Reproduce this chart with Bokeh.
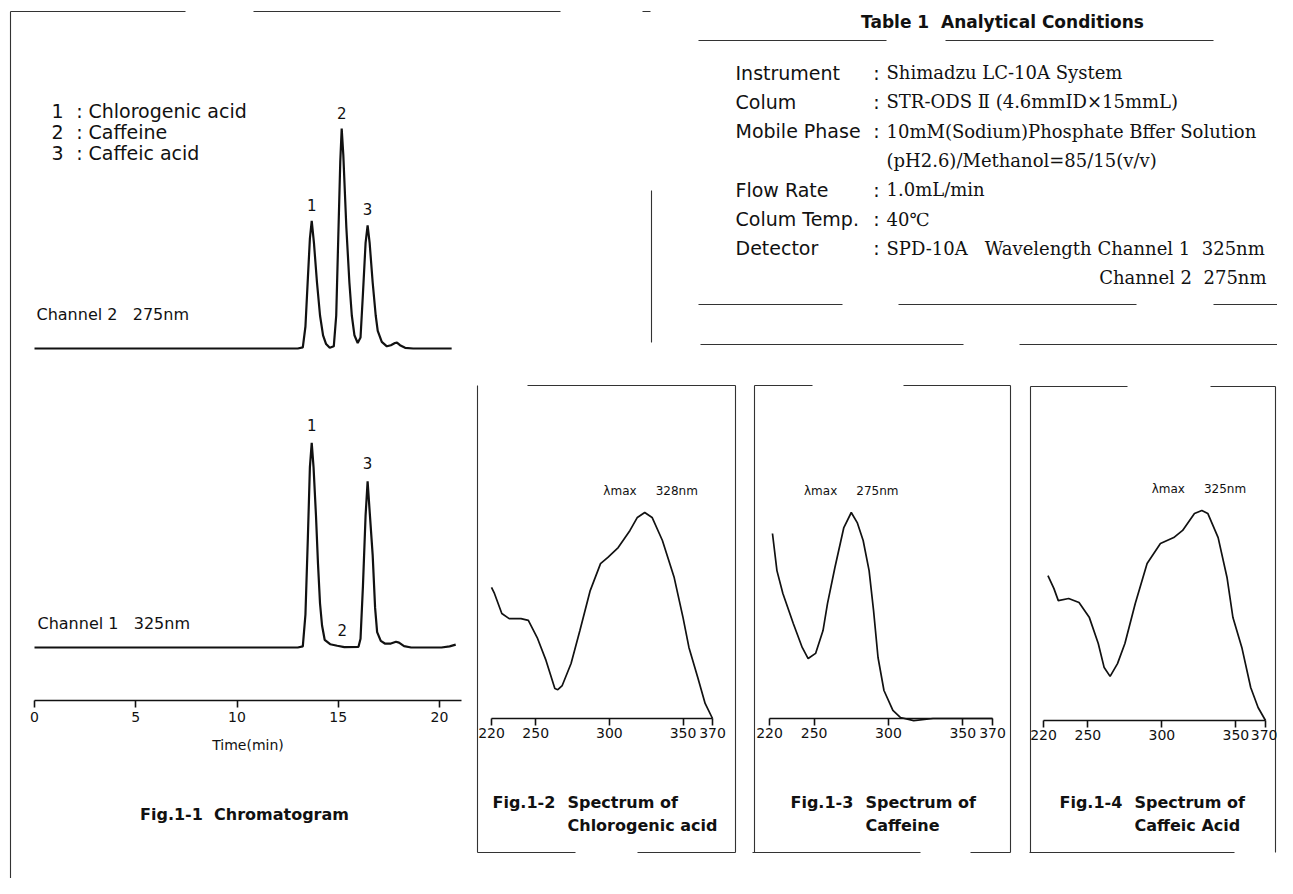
from bokeh.plotting import figure
from bokeh.models import Range1d, LinearAxis, FixedTicker
from bokeh.core.properties import value
from bokeh.embed import file_html
from bokeh.resources import INLINE

# ------------------------------------------------------------------ data
# Fig.1-1 chromatogram (time in min, relative detector signal)
ch2_time = [0.0, 13.0, 13.25, 13.38, 13.5, 13.6, 13.69, 13.8, 13.95, 14.1, 14.25, 14.4, 14.58,
            14.78, 14.9, 15.0, 15.1, 15.17, 15.25, 15.4, 15.55, 15.67, 15.8, 15.96, 16.1, 16.22,
            16.35, 16.45, 16.55, 16.7, 16.85, 16.95, 17.15, 17.4, 17.6, 17.8, 17.9, 18.05, 18.3,
            18.7, 20.6]
ch2_signal = [0, 0, 0.5, 10, 32, 50, 58, 48, 30, 15, 6, 2, 0.3,
              1, 15, 50, 85, 100, 88, 55, 30, 15, 6, 2.5, 5, 25,
              48, 56, 48, 30, 15, 8, 3, 1, 1.5, 2.5, 2.7, 1.5, 0.3,
              0, 0]
ch1_time = [0.0, 13.0, 13.25, 13.38, 13.5, 13.6, 13.69, 13.78, 13.9, 14.0, 14.1, 14.2, 14.33,
            14.6, 14.95, 15.3, 16.0, 16.1, 16.22, 16.35, 16.45, 16.55, 16.7, 16.82, 16.92,
            17.1, 17.3, 17.6, 17.85, 18.0, 18.25, 18.6, 20.1, 20.5, 20.8]
ch1_signal = [0, 0, 0.5, 15, 50, 82, 93, 82, 60, 38, 20, 10, 3.5,
              1.5, 0.8, 0.2, 0.3, 4, 28, 60, 75.5, 62, 42, 18, 7,
              3, 1.8, 1.8, 2.6, 2.2, 0.6, 0, 0, 0.5, 1.3]
chrom_ticks = [0, 5, 10, 15, 20]
chrom_axis_end = 21.1
ch2_peak_names = ["1", "2", "3"]
ch2_peak_time = [13.69, 15.17, 16.45]
ch2_peak_height = [58, 100, 56]
ch1_peak_names = ["1", "2", "3"]
ch1_peak_time = [13.69, 15.2, 16.45]
ch1_peak_height = [93, 0, 75.5]
legend_num = ["1", "2", "3"]
legend_name = ["Chlorogenic acid", "Caffeine", "Caffeic acid"]
channel_text = ["Channel 2\u00a0\u00a0\u00a0275nm", "Channel 1\u00a0\u00a0\u00a0325nm"]

# UV spectra (wavelength nm, relative absorbance)
spec1_wl = [220, 222, 227, 232, 240, 245, 251, 257, 263, 265, 268, 274, 280, 287, 294, 299, 306,
            314, 319, 324, 329, 336, 344, 350, 354, 360, 365, 370]
spec1_abs = [0.636, 0.607, 0.510, 0.485, 0.485, 0.476, 0.393, 0.282, 0.146, 0.140, 0.160, 0.267,
             0.427, 0.621, 0.752, 0.782, 0.830, 0.913, 0.976, 1.0, 0.976, 0.864, 0.684, 0.490,
             0.345, 0.199, 0.073, 0.0]
spec2_wl = [222, 225, 229, 236, 242, 246, 251, 256, 259, 264, 270, 275, 279, 283, 287, 290, 293,
            297, 303, 308, 317, 330, 370]
spec2_abs = [0.898, 0.718, 0.607, 0.461, 0.345, 0.291, 0.316, 0.427, 0.558, 0.733, 0.927, 1.0,
             0.951, 0.864, 0.718, 0.524, 0.296, 0.136, 0.039, 0.005, -0.01, 0.0, 0.0]
spec3_wl = [223, 227, 230, 237, 244, 251, 257, 261, 265, 270, 275, 282, 290, 299, 308, 314, 322,
            327, 331, 338, 344, 348, 354, 360, 365, 370]
spec3_abs = [0.690, 0.629, 0.571, 0.581, 0.562, 0.490, 0.367, 0.252, 0.210, 0.271, 0.367, 0.557,
             0.748, 0.843, 0.871, 0.905, 0.986, 1.0, 0.986, 0.871, 0.681, 0.490, 0.348, 0.157,
             0.062, 0.0]
spec_ticks = [220, 250, 300, 350, 370]
lambda_max = [328, 275, 325]
spec_fig = ["Fig.1-2", "Fig.1-3", "Fig.1-4"]
spec_compound = ["Chlorogenic acid", "Caffeine", "Caffeic Acid"]

# Table 1
table_title = "Table 1\u00a0\u00a0Analytical Conditions"
table_labels = ["Instrument", "Colum", "Mobile Phase", "", "Flow Rate", "Colum Temp.",
                "Detector", ""]
table_values = ["Shimadzu LC-10A System",
                "STR-ODS \u2161 (4.6mmID\u00d715mmL)",
                "10mM(Sodium)Phosphate Bffer Solution",
                "(pH2.6)/Methanol=85/15(v/v)",
                "1.0mL/min",
                "40\u2103",
                "SPD-10A\u00a0\u00a0\u00a0Wavelength Channel 1\u00a0\u00a0325nm",
                "Channel 2\u00a0\u00a0275nm"]

# ------------------------------------------------------------------ layout
W, H = 1277, 878
X0, Y0 = 0, 0
SANS = "DejaVu Sans"
SERIF = "DejaVu Serif"
INK = "#111111"


def lin_range(p0, v0, p1, v1, lo, hi):
    k = (v1 - v0) / (p1 - p0)
    return Range1d(start=v0 + (lo - p0) * k, end=v0 + (hi - p0) * k)


def xr(p0, v0, p1, v1):
    return lin_range(p0, v0, p1, v1, X0, X0 + W)


def yr(p0, v0, p1, v1):
    return lin_range(p0, v0, p1, v1, Y0 + H, Y0)


p = figure(width=W, height=H, x_range=Range1d(X0, X0 + W), y_range=Range1d(Y0 + H, Y0),
           output_backend="svg", toolbar_location=None, min_border=0,
           x_axis_type=None, y_axis_type=None, outline_line_color=None,
           background_fill_color="white", border_fill_color="white")

p.extra_x_ranges = {
    "t": xr(34, 0, 439, 20),
    "w1": xr(491, 220, 712, 370),
    "w2": xr(769, 220, 992, 370),
    "w3": xr(1043, 220, 1265, 370),
}
p.extra_y_ranges = {
    "ch2": yr(348, 0, 128, 100),
    "ch1": yr(647, 0, 427, 100),
    "a1": yr(718, 0, 512, 1),
    "a2": yr(718, 0, 512, 1),
    "a3": yr(720, 0, 510, 1),
}


def txt(x, y, s, size, font=SANS, style="normal", align="left", baseline="middle", **kw):
    p.text(x=x, y=y, text=s, text_font=value(font), text_font_size=value(size),
           text_font_style=style, text_align=align, text_baseline=baseline,
           text_color=INK, **kw)


# ---- decorative frame lines (scanned page rules)
frame = [
    (10, 11, 185, 11), (253, 11, 560, 11), (642, 11, 650, 11),
    (10, 11, 10, 894), (651, 190, 651, 342),
    (698, 40, 886, 40), (945, 40, 1213, 40),
    (698, 304, 842, 304), (898, 304, 1136, 304), (1213, 304, 1293, 304),
    (700, 344, 963, 344), (1019, 344, 1293, 344),
    (477, 385, 477, 852), (527, 385, 735, 385), (735, 385, 735, 852),
    (477, 852, 575, 852), (637, 852, 735, 852),
    (754, 385, 754, 852), (754, 385, 812, 385), (903, 385, 1010, 385), (1010, 385, 1010, 852),
    (752, 852, 920, 852), (970, 852, 1010, 852),
    (1030, 386, 1030, 852), (1030, 386, 1127, 386), (1210, 386, 1275, 386),
    (1275, 386, 1275, 852), (1029, 852, 1234, 852),
]
p.segment(x0=[f[0] for f in frame], y0=[f[1] for f in frame],
          x1=[f[2] for f in frame], y1=[f[3] for f in frame],
          line_color="#333333", line_width=1.1)

# ---- chromatogram traces
p.line(ch2_time, ch2_signal, x_range_name="t", y_range_name="ch2", line_color=INK, line_width=2.2)
p.line(ch1_time, ch1_signal, x_range_name="t", y_range_name="ch1", line_color=INK, line_width=2.2)

p.text(x=ch2_peak_time, y=ch2_peak_height, text=ch2_peak_names, x_range_name="t",
       y_range_name="ch2", text_font=value(SANS), text_font_size=value("15px"),
       text_align="center", text_baseline="middle", y_offset=-16, text_color=INK)
p.text(x=ch1_peak_time, y=ch1_peak_height, text=ch1_peak_names, x_range_name="t",
       y_range_name="ch1", text_font=value(SANS), text_font_size=value("15px"),
       text_align="center", text_baseline="middle", y_offset=-18, text_color=INK)

ax_t = LinearAxis(x_range_name="t", fixed_location=700, bounds=(0, chrom_axis_end),
                  ticker=FixedTicker(ticks=chrom_ticks, minor_ticks=[]),
                  axis_label="Time(min)")
axes = [ax_t]
for name, loc in [("w1", 718), ("w2", 718), ("w3", 720)]:
    axes.append(LinearAxis(x_range_name=name, fixed_location=loc, bounds=(220, 370),
                           ticker=FixedTicker(ticks=spec_ticks, minor_ticks=[])))
for ax in axes:
    ax.axis_line_color = INK
    ax.axis_line_width = 1.6
    ax.major_tick_line_color = INK
    ax.major_tick_line_width = 1.6
    ax.major_tick_in = 0
    ax.major_tick_out = 7
    ax.minor_tick_in = 0
    ax.minor_tick_out = 0
    ax.major_label_text_font = SANS
    ax.major_label_text_font_size = "14px"
    ax.major_label_text_color = INK
    ax.major_label_standoff = 2
    p.add_layout(ax, "below")
ax_t.major_label_standoff = 4
ax_t.axis_label_text_font = SANS
ax_t.axis_label_text_font_size = "14px"
ax_t.axis_label_text_font_style = "normal"
ax_t.axis_label_text_color = INK
ax_t.axis_label_standoff = 12

# legend and channel labels
leg_y = [110, 131, 152]
txt([57] * 3, leg_y, legend_num, "19px", align="center")
txt([79] * 3, leg_y, [":"] * 3, "19px", align="center")
txt([88] * 3, leg_y, legend_name, "19px")
txt([36, 37], [314, 623], channel_text, "16px")
txt([244], [814], ["Fig.1-1\u00a0\u00a0Chromatogram"], "16px", style="bold", align="center")

# ---- spectra
for i, (wl, ab) in enumerate([(spec1_wl, spec1_abs), (spec2_wl, spec2_abs), (spec3_wl, spec3_abs)]):
    xn, yn = "w%d" % (i + 1), "a%d" % (i + 1)
    p.line(wl, ab, x_range_name=xn, y_range_name=yn, line_color=INK, line_width=1.7)
    p.text(x=[lambda_max[i]], y=[1.0], text=["\u03bbmax\u00a0\u00a0\u00a0\u00a0\u00a0%dnm" % lambda_max[i]],
           x_range_name=xn, y_range_name=yn, text_font=value(SANS),
           text_font_size=value("12px"), text_align="center", text_baseline="middle",
           y_offset=-22, text_color=INK)

spec_x = [567, 865, 1134]
txt([sx - 75 for sx in spec_x], [802] * 3, spec_fig, "16px", style="bold")
txt(spec_x, [802] * 3, ["Spectrum of"] * 3, "16px", style="bold")
txt(spec_x, [825] * 3, spec_compound, "16px", style="bold")

# ---- Table 1
txt([1002], [21], [table_title], "17px", style="bold", align="center")
row_y = [72 + 29.3 * i for i in range(len(table_labels))]
lab_idx = [i for i, s in enumerate(table_labels) if s]
txt([735] * len(lab_idx), [row_y[i] for i in lab_idx], [table_labels[i] for i in lab_idx], "19px")
txt([876] * len(lab_idx), [row_y[i] for i in lab_idx], [":"] * len(lab_idx), "19px", align="center")
txt([886] * 7, row_y[:7], table_values[:7], "18px", font=SERIF)
txt([1266], [row_y[7]], [table_values[7]], "18px", font=SERIF, align="right")

open("out.html", "w").write(file_html(p, INLINE))
